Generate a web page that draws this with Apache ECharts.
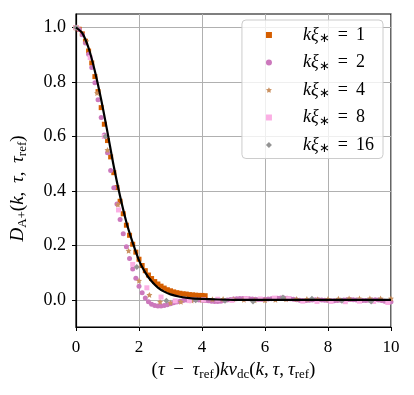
<!DOCTYPE html>
<html>
<head>
<meta charset="utf-8">
<script src="https://cdn.jsdelivr.net/npm/echarts@6/dist/echarts.min.js"></script>
<style>
  html, body { margin: 0; padding: 0; background: #fff; }
  #chart { width: 414px; height: 395px; }
</style>
</head>
<body>
<div id="chart"></div>
<script>
// k xi = 1 (orange squares)
const xK1 = [0, 0.1, 0.2, 0.3, 0.4, 0.5, 0.6, 0.7, 0.8, 0.9, 1.0, 1.1, 1.2, 1.3, 1.4, 1.5, 1.6, 1.7, 1.8, 1.9,
  2.0, 2.1, 2.2, 2.3, 2.4, 2.5, 2.6, 2.7, 2.8, 2.9, 3.0, 3.1, 3.2, 3.3, 3.4, 3.5, 3.6, 3.7, 3.8, 3.9, 4.0, 4.1]
const yK1 = [1.0, 0.994, 0.977, 0.95, 0.914, 0.87, 0.82, 0.765, 0.706, 0.645, 0.585, 0.525, 0.467, 0.412, 0.362,
  0.316, 0.274, 0.237, 0.204, 0.175, 0.149, 0.126, 0.107, 0.091, 0.078, 0.067, 0.058, 0.05, 0.043, 0.037,
  0.033, 0.029, 0.026, 0.024, 0.022, 0.021, 0.019, 0.018, 0.017, 0.016, 0.016, 0.015]

// k xi = 2 (pink circles)
const xK2 = [0, 0.1, 0.2, 0.3, 0.4, 0.5, 0.6, 0.7, 0.8, 0.9, 1.0, 1.1, 1.2, 1.3, 1.4, 1.5, 1.6, 1.7, 1.8, 1.9,
  2.0, 2.1, 2.2, 2.3, 2.4, 2.5, 2.6, 2.7, 2.8, 2.9, 3.0, 3.1, 3.2, 3.3, 3.4, 3.5, 3.6, 3.7, 3.8, 3.9,
  4.0, 4.1, 4.2, 4.3, 4.4, 4.5, 4.6, 4.7, 4.8, 4.9, 5.0, 5.1, 5.2, 5.3, 5.4, 5.5, 5.6, 5.7, 5.8, 5.9,
  6.0, 6.1, 6.2, 6.3, 6.4, 6.5, 6.6, 6.7, 6.8, 6.9, 7.0, 7.1, 7.2, 7.3, 7.4, 7.5, 7.6, 7.7, 7.8, 7.9,
  8.0, 8.1, 8.2, 8.3, 8.4, 8.5, 8.6, 8.7, 8.8, 8.9, 9.0, 9.1, 9.2, 9.3, 9.4, 9.5, 9.6, 9.7, 9.8, 9.9, 10.0]
const yK2 = [1.0, 0.993, 0.974, 0.943, 0.902, 0.853, 0.797, 0.735, 0.67, 0.605,
  0.54, 0.475, 0.412, 0.352, 0.295, 0.243, 0.195, 0.152, 0.113, 0.079,
  0.05, 0.026, 0.007, -0.007, -0.016, -0.021, -0.023, -0.023, -0.021, -0.018,
  -0.015, -0.011, -0.008, -0.005, -0.003, -0.001, 0, 0, 0, -0.001,
  -0.002, -0.003, -0.004, -0.005, -0.006, -0.006, -0.005, -0.003, -0.001, 0.001,
  0.003, 0.004, 0.005, 0.005, 0.005, 0.004, 0.003, 0.002, 0.001, 0.001,
  0.002, 0.003, 0.004, 0.005, 0.006, 0.007, 0.007, 0.006, 0.004, 0.002,
  0, -0.002, -0.003, -0.003, -0.002, -0.001, 0, 0, -0.001, -0.002,
  -0.003, -0.004, -0.004, -0.003, -0.002, -0.001, 0, 0.001, 0, -0.001,
  -0.002, -0.003, -0.003, -0.002, -0.001, 0, -0.001, -0.003, -0.005, -0.006, -0.007]

// k xi = 4 (tan stars)
const xK4 = [0, 0.33, 0.67, 1.0, 1.33, 1.67, 2.0, 2.33, 2.67, 3.0, 3.33, 3.67, 4.0, 4.33, 4.67, 5.0, 5.33,
  5.67, 6.0, 6.33, 6.67, 7.0, 7.33, 7.67, 8.0, 8.33, 8.67, 9.0, 9.33, 9.67, 10.0]
const yK4 = [1.0, 0.95, 0.76, 0.55, 0.35, 0.18, 0.07, 0.018, -0.007, -0.011, -0.007, -0.003, 0, 0.002, 0.003,
  0.002, 0, -0.002, -0.002, 0, 0.002, 0.003, 0.003, 0.002, 0.003, 0.004, 0.005, 0.005, 0.005, 0.005, 0.005]

// k xi = 8 (light pink squares)
const xK8 = [0, 0.45, 0.9, 1.35, 1.8, 2.25, 2.7, 3.15, 3.6, 4.05, 4.5, 4.95, 5.4, 5.85, 6.3, 6.75, 7.2,
  7.65, 8.1, 8.55, 9.0, 9.45, 9.9]
const yK8 = [1.0, 0.89, 0.6, 0.33, 0.13, 0.044, 0.01, -0.004, -0.003, 0, 0.002, -0.002, 0.004, 0.003, 0.006,
  0.004, -0.005, -0.006, -0.006, -0.007, -0.005, -0.006, -0.01]

// k xi = 16 (gray diamonds)
const xK16 = [0, 0.93, 1.93, 2.87, 3.8, 4.73, 5.62, 6.57, 7.49, 8.44, 9.37]
const yK16 = [1.0, 0.6, 0.12, -0.004, -0.002, -0.004, -0.006, 0.008, 0.004, -0.004, -0.006]

// reference curve (black)
const xRef = [0, 0.2, 0.4, 0.6, 0.8, 1.0, 1.2, 1.4, 1.6, 1.8, 2.0, 2.2, 2.4, 2.6, 2.8, 3.0, 3.3, 3.6, 4.0, 4.5, 5.0, 10.0]
const yRef = [1.0, 0.98, 0.925, 0.84, 0.735, 0.615, 0.49, 0.38, 0.285, 0.21, 0.145, 0.10, 0.068, 0.045, 0.03,
  0.02, 0.011, 0.006, 0.003, 0.001, 0, 0]

const xTicks = [0, 2, 4, 6, 8, 10]
const yTicks = [0, 0.2, 0.4, 0.6, 0.8, 1.0]
const legendLabels = ['1', '2', '4', '8', '16']

const SERIF = 'Liberation Serif'
const zip = (xs, ys) => xs.map((x, i) => [x, ys[i]])

const chart = echarts.init(document.getElementById('chart'))

const sub = { fontFamily: SERIF, fontSize: 13, padding: [9, 0, 0, 0], color: '#000' }
const ital = { fontFamily: SERIF, fontSize: 19, fontStyle: 'italic', color: '#000' }
const norm = { fontFamily: SERIF, fontSize: 19, color: '#000' }
const lsub = { fontFamily: SERIF, fontSize: 13, padding: [8, 0, 0, 0], color: '#000' }
const lital = { fontFamily: SERIF, fontSize: 18, fontStyle: 'italic', color: '#000' }
const lnorm = { fontFamily: SERIF, fontSize: 18, color: '#000' }

const scatterSeries = [
  { id: 'k1', color: '#d55e00', symbol: 'rect', size: 5, data: zip(xK1, yK1) },
  { id: 'k2', color: '#cc78bc', symbol: 'circle', size: 5, data: zip(xK2, yK2) },
  { id: 'k4', color: '#ca9161', symbol: 'path://M0,-10L2.9,-4L9.5,-3.1L4.7,1.5L5.9,8.1L0,5L-5.9,8.1L-4.7,1.5L-9.5,-3.1L-2.9,-4Z', size: 6, data: zip(xK4, yK4) },
  { id: 'k8', color: '#fbafe4', symbol: 'rect', size: 5, data: zip(xK8, yK8) },
  { id: 'k16', color: '#949494', symbol: 'diamond', size: 6, data: zip(xK16, yK16) }
].map((s) => ({
  name: s.id, type: 'scatter', symbol: s.symbol, symbolSize: s.size,
  itemStyle: { color: s.color, opacity: 1 }, data: s.data, z: 2
}))

chart.setOption({
  animation: false,
  backgroundColor: '#fff',
  grid: { left: 76, right: 23, top: 14, bottom: 68, show: true, borderColor: '#000', borderWidth: 1.2 },
  legend: {
    orient: 'vertical', right: 31, top: 20,
    data: scatterSeries.map((s) => s.name),
    itemWidth: 6, itemHeight: 6, itemGap: 7,
    backgroundColor: 'rgba(255,255,255,0.8)', borderColor: '#cccccc', borderWidth: 1, borderRadius: 4,
    padding: [5, 9, 3, 24],
    formatter: (name) => `{i|kξ}{s|∗}{n|\u2009 = \u2009${legendLabels[scatterSeries.findIndex((s) => s.name === name)]}}`,
    textStyle: {
      padding: [0, 0, 0, 26], lineHeight: 20,
      rich: { i: lital, s: lsub, n: lnorm }
    }
  },
  xAxis: {
    type: 'value', min: 0, max: 10, interval: 2,
    name: '{n|(}{i|τ}{n|\u2009 − \u2009}{i|τ}{s|ref}{n|)}{i|kv}{s|dc}{n|(}{i|k}{n|,\u2009}{i|τ}{n|,\u2009}{i|τ}{s|ref}{n|)}',
    nameLocation: 'middle', nameGap: 31,
    nameTextStyle: { rich: { i: ital, n: norm, s: sub } },
    axisLine: { onZero: false, lineStyle: { color: '#000', width: 1.2 } },
    axisTick: { inside: false, length: 4, lineStyle: { color: '#000', width: 1 } },
    axisLabel: { color: '#000', fontFamily: SERIF, fontSize: 17, margin: 12, customValues: xTicks },
    splitLine: { show: true, lineStyle: { color: '#b0b0b0', width: 1 } }
  },
  yAxis: {
    type: 'value', min: -0.1, max: 1.05,
    name: '{i|D}{s|A+}{n|(}{i|k}{n|,\u2009 }{i|τ}{n|,\u2009 }{i|τ}{s|ref}{n|)}',
    nameLocation: 'middle', nameGap: 47, nameRotate: 90,
    nameTextStyle: { padding: [0, 36, 0, 0], rich: { i: ital, n: norm, s: sub } },
    axisLine: { onZero: false, lineStyle: { color: '#000', width: 1.2 } },
    axisTick: { inside: false, length: 4, lineStyle: { color: '#000', width: 1 }, customValues: yTicks },
    axisLabel: { color: '#000', fontFamily: SERIF, fontSize: 18, margin: 10, customValues: yTicks,
      formatter: (v) => v.toFixed(1) },
    splitLine: { show: true, lineStyle: { color: '#b0b0b0', width: 1 } }
  },
  series: [
    ...scatterSeries,
    {
      name: 'ref', type: 'line', data: zip(xRef, yRef), smooth: 0.3, showSymbol: false, z: 3,
      lineStyle: { color: '#000', width: 2.2 }
    }
  ]
})
</script>
</body>
</html>
